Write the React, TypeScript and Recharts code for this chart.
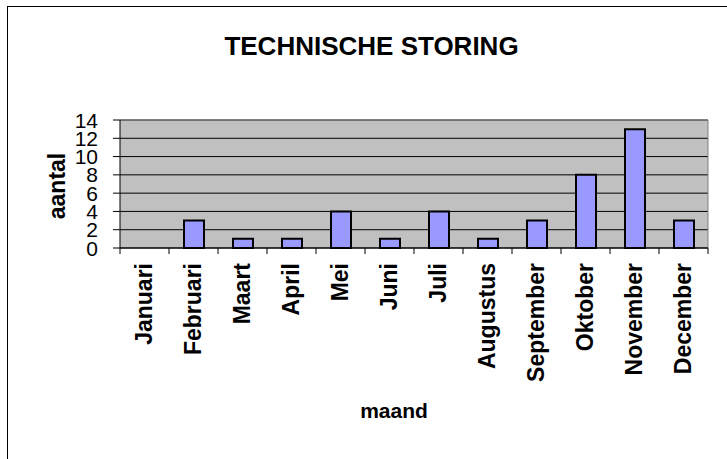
import React from "react";
import {
  BarChart,
  Bar,
  XAxis,
  YAxis,
  CartesianGrid,
  ReferenceLine,
  Label,
} from "recharts";

const months = [
  "Januari",
  "Februari",
  "Maart",
  "April",
  "Mei",
  "Juni",
  "Juli",
  "Augustus",
  "September",
  "Oktober",
  "November",
  "December",
];
const storingen = [0, 3, 1, 1, 4, 1, 4, 1, 3, 8, 13, 3];
const yTicks = [0, 2, 4, 6, 8, 10, 12, 14];

const data = months.map((maand, i) => ({ maand, aantal: storingen[i] }));

const FONT = "'Liberation Sans', Arial, sans-serif";
const W = 727;
const H = 459;
const MARGIN = { top: 120, right: 19, bottom: 0, left: 0 };
const Y_AXIS_W = 120;
const BAND = (W - MARGIN.right - MARGIN.left - Y_AXIS_W) / months.length;

// month label, rotated, plus the separator tick marks between categories
function MonthTick({ x, y, payload, index }: any) {
  const tx = x + 7;
  const ty = y + 7;
  const left = x - BAND / 2;
  const right = x + BAND / 2;
  return (
    <g>
      <line x1={left} x2={left} y1={y - 8} y2={y - 2} stroke="#000" />
      {index === months.length - 1 && (
        <line x1={right} x2={right} y1={y - 8} y2={y - 2} stroke="#000" />
      )}
      <text
        x={tx}
        y={ty}
        transform={`rotate(-90 ${tx} ${ty})`}
        textAnchor="end"
        fontFamily={FONT}
        fontWeight="bold"
        fontSize={23}
        fill="#000"
      >
        {payload.value}
      </text>
    </g>
  );
}

function CountTick({ x, y, payload }: any) {
  return (
    <text
      x={x - 13}
      y={y}
      dy={7.5}
      textAnchor="end"
      fontFamily={FONT}
      fontSize={21}
      fill="#000"
    >
      {payload.value}
    </text>
  );
}

export default function App() {
  return (
    <div
      style={{
        position: "absolute",
        left: 0,
        top: 0,
        width: W,
        height: H,
        overflow: "hidden",
        background: "#fff",
      }}
    >
      <div
        style={{
          position: "absolute",
          left: 7,
          top: 6,
          width: 760,
          height: 480,
          border: "1px solid #000",
        }}
      />
      <div
        style={{
          position: "absolute",
          left: 0,
          top: 30,
          width: 743,
          textAlign: "center",
          fontFamily: FONT,
          fontWeight: "bold",
          fontSize: 26,
          lineHeight: "32px",
        }}
      >
        TECHNISCHE STORING
      </div>
      <div style={{ position: "absolute", left: 0, top: 0 }}>
        <BarChart
          width={W}
          height={H}
          data={data}
          margin={MARGIN}
          barSize={20}
        >
          <CartesianGrid
            vertical={false}
            stroke="#000"
            fill="#C0C0C0"
            fillOpacity={1}
          />
          <CartesianGrid
            horizontal={false}
            verticalCoordinatesGenerator={({ offset }: any) => [
              offset.left + offset.width,
            ]}
            stroke="#808080"
          />
          <ReferenceLine y={14} stroke="#808080" />
          <XAxis
            dataKey="maand"
            height={H - 248}
            interval={0}
            axisLine={{ stroke: "#000" }}
            tickLine={false}
            tick={<MonthTick />}
          >
            <Label
              content={() => (
                <text
                  x={394}
                  y={418}
                  textAnchor="middle"
                  fontFamily={FONT}
                  fontWeight="bold"
                  fontSize={21}
                >
                  maand
                </text>
              )}
            />
          </XAxis>
          <YAxis
            width={Y_AXIS_W}
            domain={[0, 14]}
            ticks={yTicks}
            interval={0}
            axisLine={{ stroke: "#000" }}
            tickLine={{ stroke: "#000" }}
            tickSize={7}
            tick={<CountTick />}
          >
            <Label
              content={() => (
                <text
                  x={65}
                  y={186}
                  transform="rotate(-90 65 186)"
                  textAnchor="middle"
                  fontFamily={FONT}
                  fontWeight="bold"
                  fontSize={23}
                >
                  aantal
                </text>
              )}
            />
          </YAxis>
          <Bar
            dataKey="aantal"
            fill="#9999FF"
            stroke="#000"
            strokeWidth={2}
            isAnimationActive={false}
          />
        </BarChart>
      </div>
    </div>
  );
}
